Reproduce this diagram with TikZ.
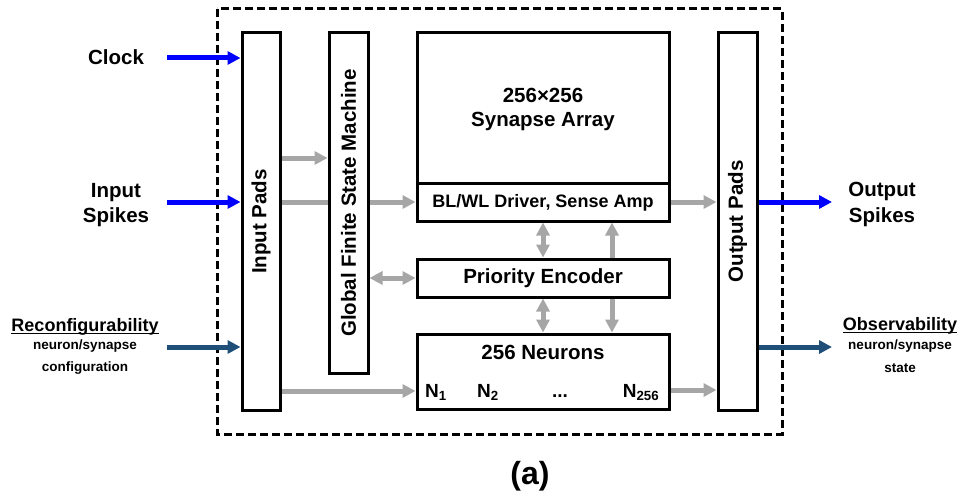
\documentclass[tikz,border=0pt]{standalone}
\usepackage{fontspec}
\setmainfont{Liberation Sans}
\usetikzlibrary{arrows.meta,backgrounds}
\definecolor{arrowgray}{RGB}{166,166,166}
\definecolor{sigblue}{RGB}{0,0,255}
\definecolor{cfgblue}{RGB}{31,78,121}
\newcommand{\setfs}[1]{\fontsize{#1}{#1}\selectfont}
\begin{document}
\begin{tikzpicture}[x=1pt,y=-1pt,
  >={Triangle[length=13pt,width=13pt]},
  blk/.style={draw,line width=3pt,fill=white,inner sep=0pt,font=\bfseries\setfs{20.5}},
  lbl/.style={inner sep=0pt,anchor=base,font=\bfseries\setfs{20.5}},
  sml/.style={inner sep=0pt,anchor=base,font=\bfseries\setfs{13.5}},
  uline/.style={line width=1.4pt},
  graylink/.style={draw=arrowgray,line width=5pt},
  bluelink/.style={draw=sigblue,line width=5pt,->},
  cfglink/.style={draw=cfgblue,line width=5pt,->}]
\useasboundingbox (0,0) rectangle (960,495);

% chip boundary
\draw[line width=3pt,dash pattern=on 8pt off 4pt] (217,9) rectangle (782,434);

% functional blocks
\node[blk,minimum width=38pt,minimum height=377pt] (ip) at (261,221.5) {};
\node[lbl,anchor=center,rotate=90] (iptext) at (ip.center) {Input Pads};
\node[blk,minimum width=39pt,minimum height=340pt] (fsm) at (348.5,203) {};
\node[lbl,anchor=center,rotate=90] (fsmtext) at (fsm.center) {Global Finite State Machine};
\node[blk,minimum width=252pt,minimum height=188pt] (syn) at (543,127) {};
\node[blk,minimum width=252pt,minimum height=38pt] (drl) at (543,202) {};
\node[blk,minimum width=252pt,minimum height=38pt] (pe) at (543,278) {};
\node[blk,minimum width=252pt,minimum height=75pt] (neu) at (543,371.5) {};
\node[blk,minimum width=39pt,minimum height=377pt] (op) at (737.5,221.5) {};
\node[lbl,anchor=center,rotate=90] (optext) at (op.center) {Output Pads};

% block texts
\node[lbl] (syn1) at (543,102) {256×256};
\node[lbl] (syn2) at (543,126) {Synapse Array};
\node[lbl,font=\bfseries\setfs{18}] (drltext) at (543,207) {BL/WL Driver, Sense Amp};
\node[lbl] (petext) at (543,283) {Priority Encoder};
\node[lbl] (neutext) at (543,359) {256 Neurons};
\node[lbl,font=\bfseries\setfs{19}] (n1) at (436,397) {N\textsubscript{1}};
\node[lbl,font=\bfseries\setfs{19}] (n2) at (488,397) {N\textsubscript{2}};
\node[lbl,font=\bfseries\setfs{19}] (ndots) at (560,397) {...};
\node[lbl,font=\bfseries\setfs{19}] (n256) at (641,397) {N\textsubscript{256}};

% external labels
\node[lbl] (clk) at (116,64) {Clock};
\node[lbl] (in1) at (116,197) {Input};
\node[lbl] (in2) at (116,222) {Spikes};
\node[lbl,font=\bfseries\setfs{18}] (rc1) at (85,331) {Reconfigurability};
\draw[uline] ([yshift=-2.2pt]rc1.base west) -- ([yshift=-2.2pt]rc1.base east);
\node[sml] (rc2) at (85,349) {neuron/synapse};
\node[sml] (rc3) at (85,371) {configuration};
\node[lbl] (out1) at (882,196) {Output};
\node[lbl] (out2) at (882,222) {Spikes};
\node[lbl,font=\bfseries\setfs{18}] (ob1) at (900,330) {Observability};
\draw[uline] ([yshift=-2.2pt]ob1.base west) -- ([yshift=-2.2pt]ob1.base east);
\node[sml] (ob2) at (900,349) {neuron/synapse};
\node[sml] (ob3) at (900,372) {state};
\node[lbl,font=\bfseries\setfs{32}] (cap) at (530,484) {(a)};

% free ends of the external signals
\coordinate (clkin) at (167,58);
\coordinate (spkin) at (167,202);
\coordinate (cfgin) at (167,347);
\coordinate (spkout) at (832,202);
\coordinate (obsout) at (832,347);

% external signals
\draw[bluelink] (clkin) -- (clkin -| ip.west);
\draw[bluelink] (spkin) -- (spkin -| ip.west);
\draw[cfglink] (cfgin) -- (cfgin -| ip.west);
\draw[bluelink] (spkout -| op.east) -- (spkout);
\draw[cfglink] (obsout -| op.east) -- (obsout);

% internal data paths, kept behind the blocks
\begin{scope}[on background layer]
  \draw[graylink,->] (ip.east |- 0,158) -- (fsm.west |- 0,158);
  \draw[graylink,->] (ip.east |- drl.west) -- (drl.west);
  \draw[graylink,->] (ip.east |- 0,391) -- (neu.west |- 0,391);
  \draw[graylink,<->] (fsm.east |- pe.west) -- (pe.west);
  \draw[graylink,<->] (drl.south) -- (pe.north);
  \draw[graylink,->] (pe.north -| 612,0) -- (drl.south -| 612,0);
  \draw[graylink,<->] (pe.south) -- (neu.north);
  \draw[graylink,->] (pe.south -| 612,0) -- (neu.north -| 612,0);
  \draw[graylink,->] (drl.east) -- (drl.east -| op.west);
  \draw[graylink,->] (neu.east |- 0,390) -- (op.west |- 0,390);
\end{scope}
\end{tikzpicture}
\end{document}
